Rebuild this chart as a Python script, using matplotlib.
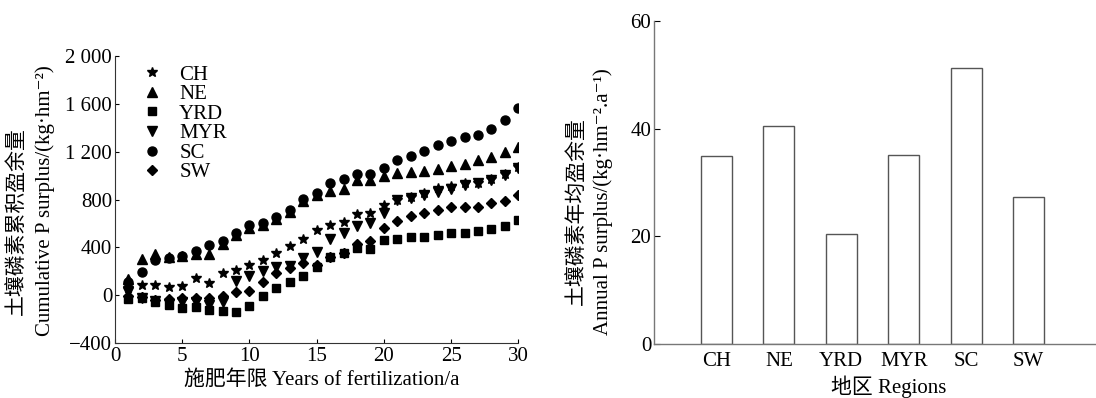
import matplotlib
matplotlib.use("Agg")
import matplotlib.pyplot as plt
from matplotlib.ticker import FuncFormatter

# Liberation Serif for latin, CJK fallback, DejaVu Serif for the superscript minus
plt.rcParams["font.family"] = ["Liberation Serif", "Noto Sans CJK SC", "DejaVu Serif"]
plt.rcParams["axes.unicode_minus"] = True

# cumulative P surplus per region, years 1..30
years = list(range(1, 31))
ch = [60, 85, 85, 71, 77, 141, 105, 183, 210, 254, 295, 353, 410, 468, 546,
      588, 616, 680, 686, 756, 797, 825, 853, 895, 917, 937, 942, 970, 1011, 1076]
ne = [140, 300, 345, 320, 330, 345, 345, 430, 500, 560, 590, 640, 700, 790, 835,
      870, 889, 964, 964, 998, 1020, 1034, 1040, 1054, 1082, 1098, 1132, 1154, 1201, 1243]
yrd = [-30, -20, -60, -85, -110, -102, -124, -129, -137, -90, -6, 58, 113, 161, 235,
       320, 350, 395, 385, 463, 469, 483, 491, 505, 519, 524, 541, 552, 580, 630]
myr = [30, -25, -50, -70, -60, -55, -82, -54, 122, 165, 200, 240, 245, 315, 364,
       468, 519, 580, 603, 692, 798, 811, 839, 867, 887, 923, 937, 965, 1006, 1067]
sc = [110, 192, 292, 313, 331, 366, 421, 457, 518, 585, 607, 656, 715, 802, 852,
      936, 973, 1011, 1011, 1062, 1132, 1165, 1210, 1257, 1294, 1321, 1341, 1389, 1467, 1564]
sw = [-10, -15, -40, -30, -26, -26, -26, -6, 30, 38, 110, 185, 225, 272, 252,
      320, 352, 430, 455, 561, 617, 664, 686, 714, 742, 742, 742, 770, 792, 840]

# annual mean P surplus
regions = ["CH", "NE", "YRD", "MYR", "SC", "SW"]
annual = [35.0, 40.4, 20.5, 35.1, 51.2, 27.3]

FS = 15
W, H = 1096, 398
fig = plt.figure(figsize=(W / 100, H / 100), dpi=100)


def fx(px):
    return px / W


def fy(py):
    return 1 - py / H


# ---- left: cumulative surplus
ax1 = fig.add_axes([0.1049, 0.138, 0.368, 0.721])
series = [
    ("CH", ch, "*", 7.5),
    ("NE", ne, "^", 6.5),
    ("YRD", yrd, "s", 5.5),
    ("MYR", myr, "v", 6.5),
    ("SC", sc, "o", 6.5),
    ("SW", sw, "D", 5.2),
]
for name, vals, mk, ms in series:
    ax1.plot(years, vals, linestyle="none", marker=mk, markersize=ms,
             color="black", label=name)

ax1.set_xlim(0, 30)
ax1.set_ylim(-400, 2000)
ax1.set_xticks(range(0, 31, 5))
ax1.set_yticks(range(-400, 2001, 400))
ax1.yaxis.set_major_formatter(FuncFormatter(
    lambda v, p: f"{int(v):,}".replace(",", " ").replace("-", "\u2212")))
ax1.tick_params(direction="in", length=3, width=0.8, labelsize=FS)
ax1.tick_params(axis="y", pad=2)
ax1.tick_params(axis="x", pad=3)
for s in ("top", "right"):
    ax1.spines[s].set_visible(False)
for s in ("left", "bottom"):
    ax1.spines[s].set_color("#333333")
    ax1.spines[s].set_linewidth(0.8)

fig.text(fx(322), fy(380), "施肥年限 Years of fertilization/a", fontsize=FS,
         ha="center", va="center")
fig.text(fx(18), fy(221), "土壤磷素累积盈余量", fontsize=FS, rotation=90,
         ha="center", va="center")
fig.text(fx(45), fy(201), "Cumulative P surplus/(kg·hm⁻²)", fontsize=FS,
         rotation=90, ha="center", va="center")

leg = ax1.legend(loc="upper left", bbox_to_anchor=(0.03, 1.02), frameon=False,
                 fontsize=FS, handlelength=1.0, handletextpad=0.8,
                 labelspacing=0.0, borderaxespad=0.3)

# ---- right: annual mean surplus
ax2 = fig.add_axes([0.5967, 0.1357, 0.4033, 0.8116])
xpos = list(range(1, len(regions) + 1))
ax2.bar(xpos, annual, width=0.5, color="white", edgecolor="#555555", linewidth=1.0)
ax2.set_xlim(0, 7.08)
ax2.set_ylim(0, 60)
ax2.set_yticks([0, 20, 40, 60])
ax2.set_xticks(xpos)
ax2.set_xticklabels(regions)
ax2.tick_params(axis="y", direction="in", length=4, width=0.8, labelsize=FS, pad=2)
ax2.tick_params(axis="x", length=0, labelsize=FS, pad=6)
for s in ("top", "right"):
    ax2.spines[s].set_visible(False)
for s in ("left", "bottom"):
    ax2.spines[s].set_color("#777777")
    ax2.spines[s].set_linewidth(1.0)

fig.text(fx(889), fy(387), "地区 Regions", fontsize=FS, ha="center", va="center")
fig.text(fx(578), fy(211), "土壤磷素年均盈余量", fontsize=FS, rotation=90,
         ha="center", va="center")
fig.text(fx(603), fy(202), "Annual P surplus/(kg·hm⁻².a⁻¹)", fontsize=FS,
         rotation=90, ha="center", va="center")

fig.savefig("out.png", dpi=100)
